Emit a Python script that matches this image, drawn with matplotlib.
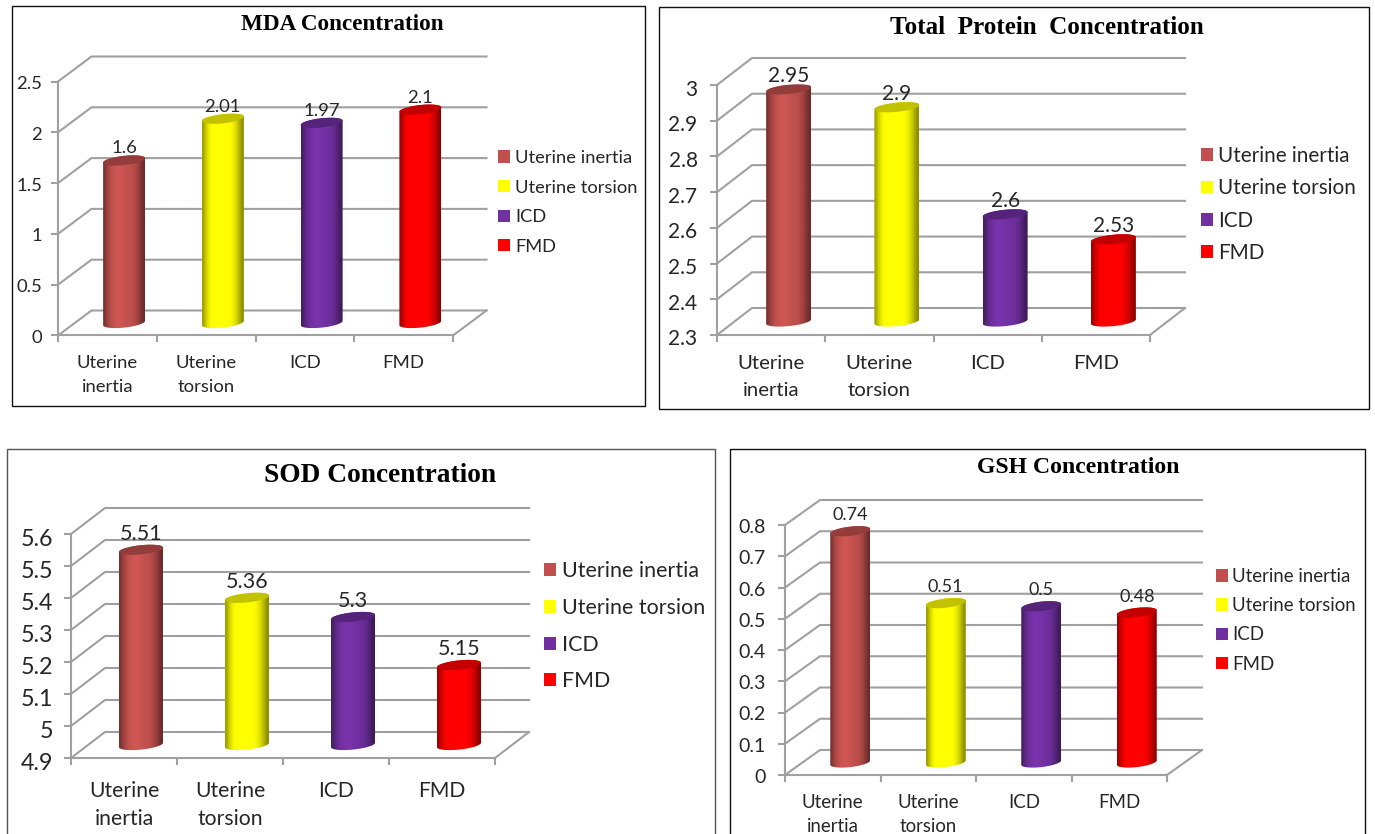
import numpy as np
import matplotlib
matplotlib.use("Agg")
import matplotlib.pyplot as plt
from matplotlib.colors import to_rgb
from matplotlib.patches import Patch, PathPatch, Rectangle
from matplotlib.path import Path
from matplotlib.transforms import Affine2D

W, H = 1375, 834
plt.rcParams['font.family'] = ['Lato', 'DejaVu Sans']

categories = ['Uterine inertia', 'Uterine torsion', 'ICD', 'FMD']
tick_labels = ['Uterine\ninertia', 'Uterine\ntorsion', 'ICD', 'FMD']
colors = ['#c0504d', '#ffff00', '#7030a0', '#ff0000']

mda_values = [1.6, 2.01, 1.97, 2.1]
mda_labels = ['1.6', '2.01', '1.97', '2.1']
mda_ticks = [0, 0.5, 1, 1.5, 2, 2.5]
mda_ticklabels = ['0', '0.5', '1', '1.5', '2', '2.5']

protein_values = [2.95, 2.9, 2.6, 2.53]
protein_labels = ['2.95', '2.9', '2.6', '2.53']
protein_ticks = [2.3, 2.4, 2.5, 2.6, 2.7, 2.8, 2.9, 3.0]
protein_ticklabels = ['2.3', '2.4', '2.5', '2.6', '2.7', '2.8', '2.9', '3']

sod_values = [5.51, 5.36, 5.3, 5.15]
sod_labels = ['5.51', '5.36', '5.3', '5.15']
sod_ticks = [4.9, 5.0, 5.1, 5.2, 5.3, 5.4, 5.5, 5.6]
sod_ticklabels = ['4.9', '5', '5.1', '5.2', '5.3', '5.4', '5.5', '5.6']

gsh_values = [0.74, 0.51, 0.5, 0.48]
gsh_labels = ['0.74', '0.51', '0.5', '0.48']
gsh_ticks = [0, 0.1, 0.2, 0.3, 0.4, 0.5, 0.6, 0.7, 0.8]
gsh_ticklabels = ['0', '0.1', '0.2', '0.3', '0.4', '0.5', '0.6', '0.7', '0.8']

GRID = '#a0a0a0'
TEXT = '#262626'
shade = np.array([0.62, 0.8, 0.92, 1.0, 1.04, 1.08, 1.08, 1.06, 1.04, 1.0, 1.0, 0.96, 0.9, 0.8, 0.66, 0.55])
fig = plt.figure(figsize=(W / 100, H / 100), dpi=100, facecolor='white')
px = Affine2D().scale(1, -1).translate(0, H)


def panel(title, values, labels, ticks, ticklabels, frame, frame_color, title_xy, title_size,
          plane, depth, bar_px, xfont, yfont, label_px, label_font, pad_x, pad_y, ylab_drop,
          legend_xy, legend_step, legend_font, legend_gap, linespacing):
    fx0, fy0, fx1, fy1 = frame
    fig.add_artist(Rectangle((fx0, fy0), fx1 - fx0, fy1 - fy0, transform=px, fill=False,
                             edgecolor=frame_color, linewidth=1.0))
    fig.text(title_xy[0] / W, 1 - title_xy[1] / H, title, ha='center', va='center',
             family='Liberation Serif', weight='bold', fontsize=title_size, color='black')

    x0, ytop, x1, ybot = plane
    ax = fig.add_axes([x0 / W, 1 - ybot / H, (x1 - x0) / W, (ybot - ytop) / H])
    ax.patch.set_alpha(0)
    vmin, vmax = ticks[0], ticks[-1]
    ax.set_xlim(0, 4)
    ax.set_ylim(vmin, vmax)
    cat_px = (x1 - x0) / 4
    val_px = (ybot - ytop) / (vmax - vmin)
    ddx = depth[0] / cat_px
    ddy = depth[1] / val_px

    for s in ('top', 'right'):
        ax.spines[s].set_visible(False)
    for s in ('left', 'bottom'):
        ax.spines[s].set_color(GRID)
        ax.spines[s].set_linewidth(1.5)
    ax.set_yticks(ticks, ticklabels)
    ax.set_xticks([0, 1, 2, 3, 4], minor=False, labels=[''] * 5)
    ax.set_xticks([0.5, 1.5, 2.5, 3.5], tick_labels, minor=True, linespacing=linespacing)
    ax.tick_params(axis='both', which='major', color=GRID, width=1.5, length=5)
    ax.tick_params(axis='x', which='minor', length=0, pad=pad_x, labelsize=xfont, labelcolor=TEXT)
    ax.tick_params(axis='y', which='major', pad=pad_y, labelsize=yfont, labelcolor=TEXT)
    for t in ax.xaxis.get_minorticklabels():
        t.set_verticalalignment('top')
    for tick in ax.yaxis.get_major_ticks():
        tick.label1.set_transform(tick.label1.get_transform() + Affine2D().translate(0, -ylab_drop))

    for v in ticks:
        ax.plot([0, ddx, 4 + ddx], [v, v + ddy, v + ddy], color=GRID, lw=1.5,
                clip_on=False, zorder=1, solid_joinstyle='miter')
    ax.plot([4, 4 + ddx], [vmin, vmin + ddy], color=GRID, lw=1.5, clip_on=False, zorder=1)

    base = vmin + ddy / 2
    width = bar_px / cat_px
    b = 4.6 / val_px
    tilt = 2.2 / val_px
    t_low = np.linspace(np.pi, 2 * np.pi, 50)
    t_all = np.linspace(0, 2 * np.pi, 100)
    xs = np.arange(4) + 0.5 + ddx / 2
    ax.bar(xs, np.array(values) - vmin, bottom=base, width=width, color=colors,
           linewidth=0, zorder=2, alpha=0)
    for xc, v, c, lab in zip(xs, values, colors, labels):
        rgb = np.array(to_rgb(c))
        top = v + ddy / 2
        a = width / 2
        low_x = xc + a * np.cos(t_low)
        low_y = base + b * np.sin(t_low) + tilt * np.cos(t_low)
        up_x = xc + a * np.cos(t_low[::-1])
        up_y = top - b * np.sin(t_low[::-1]) + tilt * np.cos(t_low[::-1])
        verts = np.column_stack([np.r_[low_x, up_x, low_x[0]], np.r_[low_y, up_y, low_y[0]]])
        clip = PathPatch(Path(verts), transform=ax.transData, fc='none', ec='none')
        ax.add_patch(clip)
        grad = np.clip(shade[None, :, None] * rgb[None, None, :], 0, 1)
        im = ax.imshow(grad, extent=(xc - a, xc + a, base - 2 * b, top + 2 * b), aspect='auto',
                       interpolation='bicubic', zorder=3, origin='lower')
        im.set_clip_path(clip)
        ax.fill(xc + a * np.cos(t_all), top + b * np.sin(t_all) + tilt * np.cos(t_all),
                color=rgb * 0.76, lw=0, zorder=4, clip_on=False)
        ax.annotate(lab, (xc, top), xytext=(0, label_px * 0.72), textcoords='offset points',
                    ha='center', va='center', fontsize=label_font, color=TEXT, zorder=5,
                    annotation_clip=False)
    ax.set_xlim(0, 4)
    ax.set_ylim(vmin, vmax)

    handles = [Patch(facecolor=c, edgecolor='none') for c in colors]
    fs_px = legend_font / 0.72
    ax.legend(handles, categories, loc='upper left', bbox_to_anchor=legend_xy, bbox_transform=px,
              frameon=False, fontsize=legend_font, borderpad=0, borderaxespad=0,
              handlelength=12 / fs_px, handleheight=12 / fs_px, handletextpad=legend_gap / fs_px,
              labelspacing=(legend_step - 0.93 * fs_px) / fs_px, labelcolor=TEXT)


panel('MDA Concentration', mda_values, mda_labels, mda_ticks, mda_ticklabels,
      (12, 6, 645, 406), '#111111', (342, 25), 16.7,
      (58, 81.5, 453, 335.5), (33.5, 25), 42, 13.3, 13.3, 12, 13.3, 14, 6.5, 1,
      (498, 150), 30.6, 13.2, 5, 1.63)

panel('Total  Protein  Concentration', protein_values, protein_labels, protein_ticks, protein_ticklabels,
      (659, 7, 1369, 409), '#111111', (1047, 28), 18.1,
      (717, 85, 1150, 335), (35, 27), 45, 14.7, 15, 13, 15, 14.5, 9, 2.5,
      (1201, 146), 31.6, 14.9, 5.5, 1.71)

panel('SOD Concentration', sod_values, sod_labels, sod_ticks, sod_ticklabels,
      (7, 449, 715, 900), '#555555', (380, 476), 19.7,
      (71, 534, 495, 758), (34, 26), 44, 15.2, 16.8, 16, 15.5, 16.5, 8, 3,
      (544, 561), 36.7, 15.4, 6, 1.49)

panel('GSH Concentration', gsh_values, gsh_labels, gsh_ticks, gsh_ticklabels,
      (730, 449, 1365, 900), '#111111', (1078, 468), 17.1,
      (785, 525, 1167, 775), (35, 25), 40, 13.4, 14, 16, 13, 13.5, 9, 1,
      (1216, 568), 29.5, 13.4, 4.5, 1.5)

fig.savefig('out.png', dpi=100, facecolor='white')
